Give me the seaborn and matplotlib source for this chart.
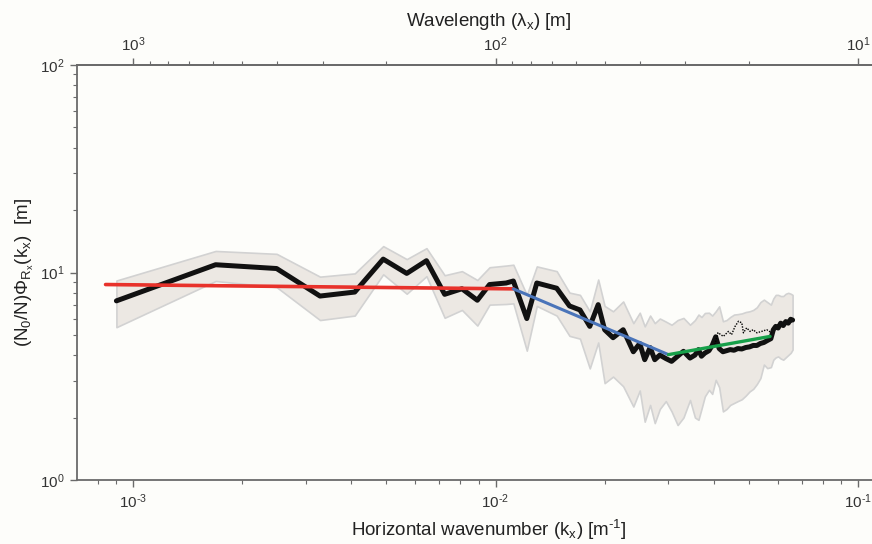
import numpy as np
import pandas as pd
import matplotlib
matplotlib.use("Agg")
import matplotlib.pyplot as plt
import seaborn as sns
from matplotlib.ticker import FuncFormatter

# ---- data ----
wavenumber = [9.0e-4, 1.69e-3, 2.49e-3, 3.28e-3, 4.09e-3, 4.90e-3, 5.69e-3, 6.45e-3,
              7.24e-3, 8.08e-3, 8.91e-3, 9.63e-3, 1.07e-2, 1.12e-2, 1.22e-2, 1.30e-2,
              1.475e-2, 1.60e-2, 1.71e-2, 1.82e-2, 1.92e-2, 2.00e-2, 2.11e-2, 2.25e-2,
              2.40e-2, 2.50e-2, 2.58e-2, 2.67e-2, 2.75e-2, 2.84e-2, 2.95e-2, 3.06e-2,
              3.18e-2, 3.30e-2, 3.44e-2, 3.55e-2, 3.63e-2, 3.70e-2, 3.78e-2, 3.88e-2,
              3.96e-2, 4.05e-2, 4.14e-2, 4.24e-2, 4.34e-2, 4.44e-2, 4.55e-2, 4.66e-2,
              4.78e-2, 4.90e-2, 5.02e-2, 5.14e-2, 5.26e-2, 5.38e-2, 5.50e-2, 5.62e-2,
              5.75e-2, 5.84e-2, 5.93e-2, 6.02e-2, 6.12e-2, 6.22e-2, 6.32e-2, 6.42e-2,
              6.52e-2, 6.60e-2]
spectrum = [7.3, 10.9, 10.45, 7.7, 8.05, 11.6, 9.9, 11.4,
            7.85, 8.35, 7.35, 8.75, 8.9, 9.1, 6.0, 8.9,
            8.4, 6.9, 6.6, 5.5, 7.0, 5.3, 4.85, 5.3,
            4.15, 4.55, 3.8, 4.35, 3.8, 4.0, 3.85, 3.73,
            3.95, 4.17, 3.87, 4.0, 4.25, 3.95, 4.09, 4.2,
            4.45, 4.9, 4.3, 4.15, 4.2, 4.25, 4.22, 4.3,
            4.28, 4.35, 4.38, 4.45, 4.45, 4.55, 4.6, 4.7,
            4.8, 5.3, 5.5, 5.4, 5.7, 5.55, 5.8, 5.7,
            5.95, 5.9]
band_low = [5.45, 9.1, 8.5, 5.9, 6.2, 9.8, 7.9, 9.6,
            6.05, 6.6, 5.55, 7.0, 7.05, 7.1, 4.2, 6.9,
            6.2, 4.95, 4.8, 3.45, 4.6, 2.93, 3.15, 2.83,
            2.26, 2.7, 1.91, 2.3, 1.88, 2.2, 2.4, 2.14,
            1.84, 2.0, 2.43, 2.0, 1.95, 2.2, 2.53, 2.72,
            2.6, 3.04, 2.8, 2.14, 2.2, 2.3, 2.35, 2.4,
            2.45, 2.55, 2.67, 2.75, 2.9, 3.1, 3.6, 3.46,
            3.5, 3.8, 3.9, 3.94, 3.85, 3.8, 3.9, 4.0,
            4.1, 4.25]
band_high = [9.15, 12.7, 12.3, 9.55, 9.9, 13.4, 11.6, 13.1,
             9.7, 10.15, 9.2, 10.6, 10.8, 10.9, 7.8, 10.7,
             10.15, 8.0, 7.8, 6.5, 9.25, 6.9, 6.5, 7.25,
             5.7, 6.4, 5.5, 6.2, 5.7, 6.0, 5.8, 5.6,
             5.9, 6.04, 5.6, 5.9, 6.27, 6.1, 6.38, 6.4,
             6.2, 6.5, 6.87, 5.82, 5.9, 6.1, 6.27, 6.3,
             6.35, 6.45, 6.5, 6.6, 6.8, 7.2, 7.4, 7.2,
             7.0, 7.5, 7.8, 7.8, 7.7, 7.7, 7.9, 7.98,
             7.9, 7.8]

dotted_k = [4.03e-2, 4.11e-2, 4.25e-2, 4.39e-2, 4.48e-2, 4.58e-2, 4.68e-2, 4.78e-2,
            4.83e-2, 4.93e-2, 5.04e-2, 5.14e-2, 5.26e-2, 5.42e-2, 5.60e-2, 5.78e-2]
dotted_v = [4.49, 5.13, 4.92, 5.2, 5.02, 5.5, 5.82, 5.72,
            5.12, 5.41, 5.2, 5.3, 5.12, 5.2, 5.3, 5.12]

fit_red_k = [8.4e-4, 1.12e-2]
fit_red_v = [8.75, 8.34]
fit_blue_k = [1.12e-2, 3.0e-2]
fit_blue_v = [8.34, 4.02]
fit_green_k = [3.0e-2, 5.72e-2]
fit_green_v = [4.02, 4.92]

wavenumber_ticks = [1e-3, 1e-2, 1e-1]
wavelength_ticks = [1e3, 1e2, 1e1]
value_ticks = [1, 10, 100]

# ---- style ----
sns.set_theme(style="ticks")
BG = "#fdfdfa"
GREY = "#6a6a6a"
plt.rcParams.update({
    "font.family": ["Liberation Sans", "DejaVu Sans"],
    "mathtext.fontset": "custom",
    "mathtext.rm": "Liberation Sans",
    "mathtext.it": "Liberation Sans:italic",
    "mathtext.bf": "Liberation Sans:bold",
    "axes.unicode_minus": False,
    "axes.edgecolor": GREY,
    "xtick.color": GREY,
    "ytick.color": GREY,
    "xtick.labelcolor": "#333333",
    "ytick.labelcolor": "#333333",
})


def pow10(val, pos):
    e = int(round(np.log10(val)))
    if e < 0:
        return r"$\mathregular{10^{\text{-}%d}}$" % (-e)
    return r"$\mathregular{10^{%d}}$" % e


fig = plt.figure(figsize=(8.72, 5.44), dpi=100)
fig.patch.set_facecolor(BG)
ax = fig.add_axes([77 / 872, 1 - 480 / 544, 823 / 872, 415 / 544])
ax.set_facecolor(BG)

df = pd.DataFrame({"k": wavenumber, "v": spectrum, "lo": band_low, "hi": band_high})

ax.fill_between(df["k"], df["lo"], df["hi"], facecolor="#ece8e3",
                edgecolor="#d2d2d2", linewidth=1.2, zorder=1)
sns.lineplot(data=df, x="k", y="v", color="#111111", linewidth=3.6,
             estimator=None, sort=False, ax=ax, zorder=3)
sns.lineplot(x=dotted_k, y=dotted_v, color="black", linewidth=1.0,
             linestyle=(0, (1, 1)), estimator=None, sort=False, ax=ax, zorder=3)
sns.lineplot(x=fit_red_k, y=fit_red_v, color="#e8322b", linewidth=2.6,
             estimator=None, ax=ax, zorder=4)
sns.lineplot(x=fit_blue_k, y=fit_blue_v, color="#4a74b9", linewidth=2.2,
             estimator=None, ax=ax, zorder=4)
sns.lineplot(x=fit_green_k, y=fit_green_v, color="#17a04a", linewidth=2.4,
             estimator=None, ax=ax, zorder=4)

ax.set_xscale("log")
ax.set_yscale("log")
left_k = 10 ** (-3 - (133 - 77) / 362.5)
right_k = 10 ** (-3 + (900 - 133) / 362.5)
ax.set_xlim(left_k, right_k)
ax.set_ylim(1, 100)
ax.set_xticks(wavenumber_ticks)
ax.set_yticks(value_ticks)
ax.xaxis.set_major_formatter(FuncFormatter(pow10))
ax.yaxis.set_major_formatter(FuncFormatter(pow10))

for s in ["top", "left", "bottom"]:
    ax.spines[s].set_linewidth(1.3)
    ax.spines[s].set_color(GREY)
ax.spines["right"].set_visible(False)

ax.tick_params(which="major", direction="out", length=5, width=1.0, labelsize=11, pad=4)
ax.tick_params(which="minor", direction="out", length=3, width=0.8)
ax.tick_params(axis="x", top=False)

ax.set_xlabel(r"Horizontal wavenumber (k$_\mathregular{x}$) [m$^\mathregular{\text{-}1}$]",
              fontsize=13.5, color="#222222", labelpad=5)
ax.set_ylabel(r"(N$_\mathregular{0}$/N)Φ$_{\mathregular{R_x}}$(k$_\mathregular{x}$)  [m]",
              fontsize=13.5, color="#222222", labelpad=3)


def inv(x):
    x = np.asarray(x, dtype=float)
    with np.errstate(divide="ignore"):
        return np.where(x > 0, 1.0 / np.where(x > 0, x, 1.0), np.inf)


sec = ax.secondary_xaxis("top", functions=(inv, inv))
sec.set_xticks(wavelength_ticks)
sec.xaxis.set_major_formatter(FuncFormatter(pow10))
sec.spines["top"].set_linewidth(1.3)
sec.spines["top"].set_color(GREY)
sec.tick_params(which="major", direction="out", length=5, width=1.0, labelsize=11, pad=3)
sec.tick_params(which="minor", direction="out", length=3, width=0.8)
sec.set_xlabel(r"Wavelength (λ$_\mathregular{x}$) [m]", fontsize=13.5,
               color="#222222", labelpad=7)

fig.savefig("out.png", dpi=100, facecolor=BG)
